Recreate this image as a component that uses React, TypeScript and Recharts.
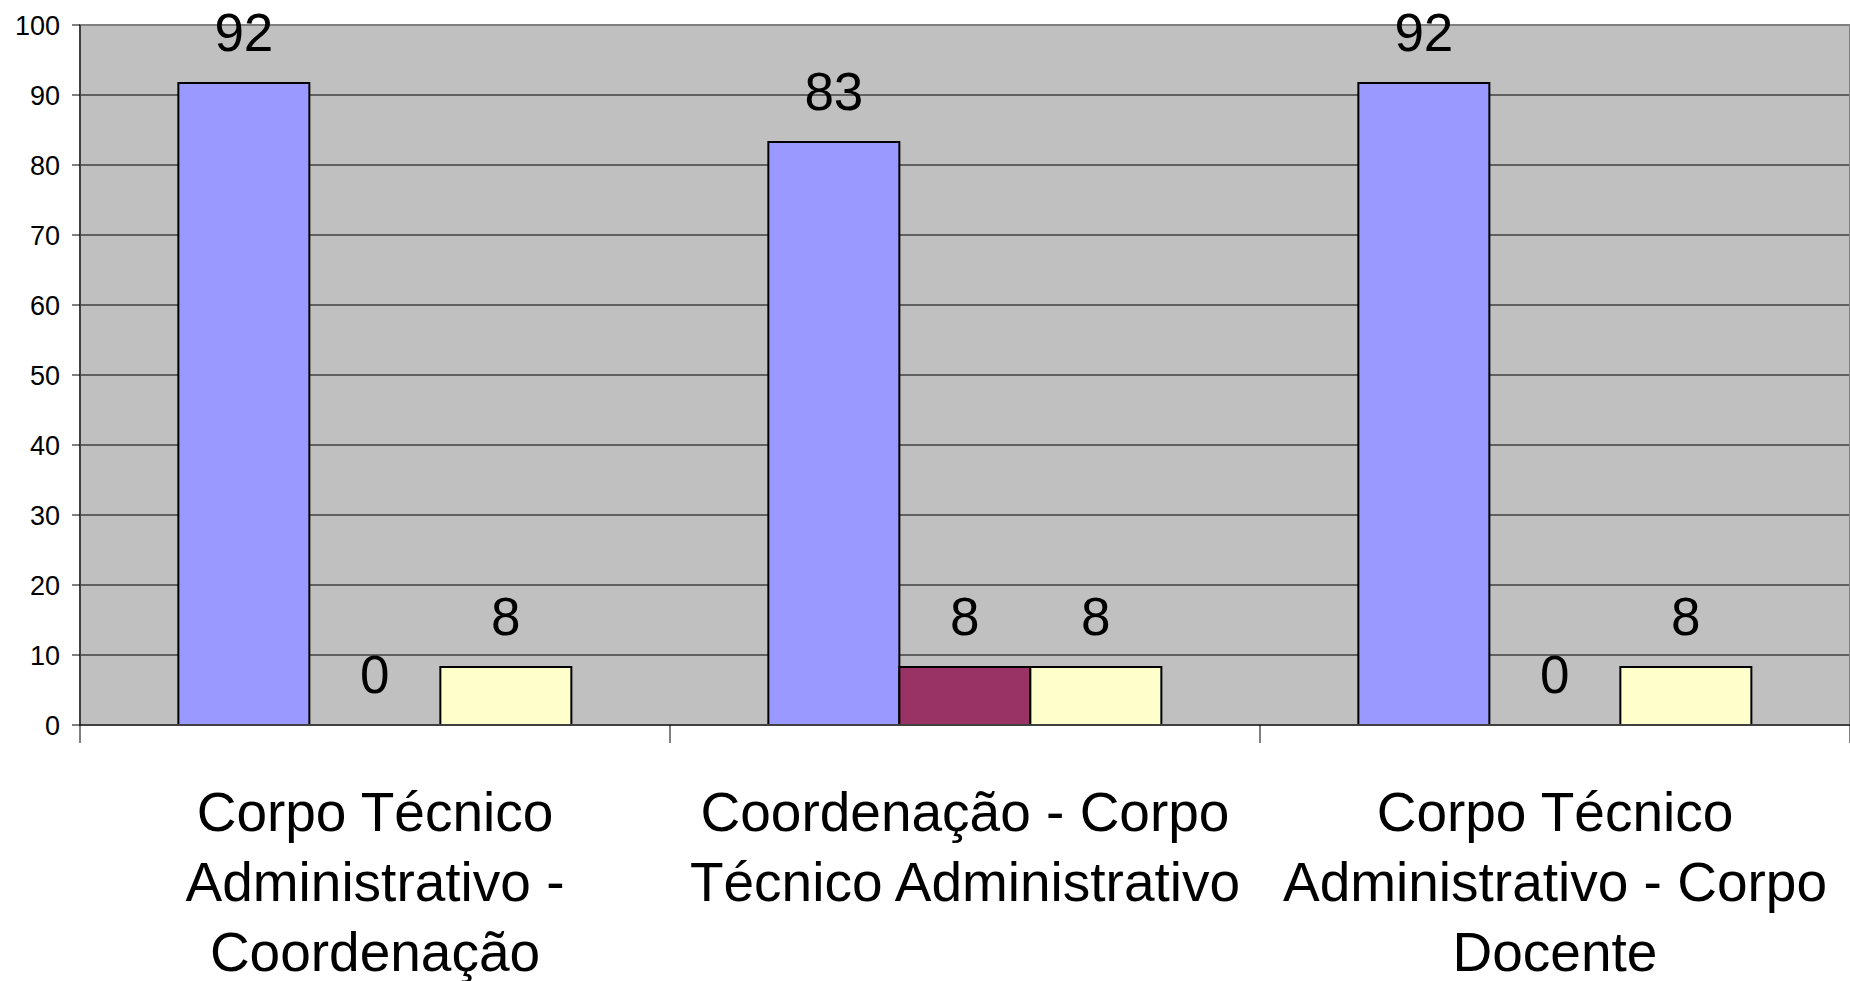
import React from "react";
import {
  BarChart,
  Bar,
  XAxis,
  YAxis,
  CartesianGrid,
  LabelList,
  ReferenceArea,
  Rectangle,
} from "recharts";

const categories = [
  "Corpo Técnico Administrativo - Coordenação",
  "Coordenação - Corpo Técnico Administrativo",
  "Corpo Técnico Administrativo - Corpo Docente",
];
const categoryLines = [
  ["Corpo Técnico", "Administrativo -", "Coordenação"],
  ["Coordenação - Corpo", "Técnico Administrativo"],
  ["Corpo Técnico", "Administrativo - Corpo", "Docente"],
];
const serieA = [91.7, 83.3, 91.7];
const serieB = [0, 8.3, 0];
const serieC = [8.3, 8.3, 8.3];
const yTicks = [0, 10, 20, 30, 40, 50, 60, 70, 80, 90, 100];

const data = categories.map((c, i) => ({
  name: c,
  a: serieA[i],
  b: serieB[i],
  c: serieC[i],
}));

const FONT = "'Liberation Sans', Arial, sans-serif";
const LAST = categories.length - 1;

const CategoryTick = (props: any) => {
  const { x, y, index, payload } = props;
  const half = payload && payload.offset ? payload.offset : 0;
  const lines = categoryLines[index] || [];
  return (
    <g>
      <line x1={x - half} x2={x - half} y1={y} y2={y + 18} stroke="#000" strokeWidth={1} />
      {index === LAST && (
        <line x1={x + half} x2={x + half} y1={y} y2={y + 18} stroke="#000" strokeWidth={1} />
      )}
      <text x={x} y={y} textAnchor="middle" fontFamily={FONT} fontSize={55} fill="#000">
        {lines.map((l, i) => (
          <tspan key={i} x={x} dy={i === 0 ? 106 : 70}>
            {l}
          </tspan>
        ))}
      </text>
    </g>
  );
};

const fmt = (v: any) => String(Math.round(Number(v)));

const ZeroAwareBar = (props: any) => {
  if (!props.value) return <g />;
  return <Rectangle {...props} />;
};

export default function App() {
  return (
    <div style={{ position: "absolute", left: 0, top: 0, width: 1850, height: 981, background: "#fff" }}>
      <BarChart
        width={1850}
        height={981}
        data={data}
        margin={{ top: 25, right: 0, bottom: 0, left: 0 }}
        barCategoryGap="16.67%"
        barGap={0}
      >
        <CartesianGrid vertical={false} stroke="#000" strokeWidth={1} fill="#C0C0C0" fillOpacity={1} />
        <XAxis
          dataKey="name"
          type="category"
          height={256}
          tickLine={false}
          axisLine={{ stroke: "#404040", strokeWidth: 2 }}
          tickSize={0}
          tickMargin={0}
          interval={0}
          tick={<CategoryTick />}
        />
        <YAxis
          type="number"
          domain={[0, 100]}
          ticks={yTicks}
          width={80}
          tickSize={8}
          tickMargin={12}
          axisLine={{ stroke: "#000", strokeWidth: 1 }}
          tickLine={{ stroke: "#000", strokeWidth: 1 }}
          tick={{ fontSize: 27, fill: "#000", fontFamily: FONT }}
        />
        <ReferenceArea
          x1={categories[0]}
          x2={categories[LAST]}
          y1={0}
          y2={100}
          fill="none"
          fillOpacity={0}
          stroke="#808080"
          strokeWidth={2}
        />
        <Bar dataKey="a" name="Série 1" fill="#9999FF" stroke="#000" strokeWidth={2} isAnimationActive={false}>
          <LabelList dataKey="a" position="top" offset={32} formatter={fmt} fill="#000" fontSize={53} fontFamily={FONT} />
        </Bar>
        <Bar
          dataKey="b"
          name="Série 2"
          fill="#993366"
          stroke="#000"
          strokeWidth={2}
          minPointSize={0.01}
          shape={<ZeroAwareBar />}
          isAnimationActive={false}
        >
          <LabelList dataKey="b" position="top" offset={32} formatter={fmt} fill="#000" fontSize={53} fontFamily={FONT} />
        </Bar>
        <Bar dataKey="c" name="Série 3" fill="#FFFFCC" stroke="#000" strokeWidth={2} isAnimationActive={false}>
          <LabelList dataKey="c" position="top" offset={32} formatter={fmt} fill="#000" fontSize={53} fontFamily={FONT} />
        </Bar>
      </BarChart>
    </div>
  );
}
